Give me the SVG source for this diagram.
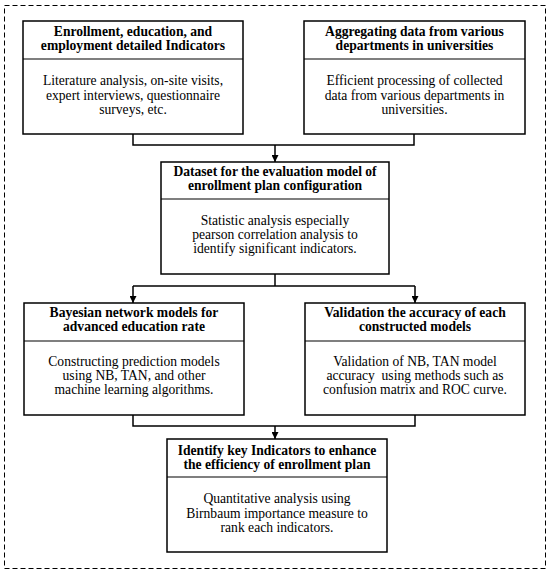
<svg xmlns="http://www.w3.org/2000/svg" width="550" height="574" viewBox="0 0 550 574">
<style>
.box{fill:#fff;stroke:#000;stroke-width:1.5}
.div{stroke:#000;stroke-width:1.2}
.t{font-family:"Liberation Serif","Times New Roman",serif;font-weight:bold;font-size:13.6px;text-anchor:middle;fill:#000}
.b{font-family:"Liberation Serif","Times New Roman",serif;font-size:13.6px;text-anchor:middle;fill:#000}
.c{fill:none;stroke:#000;stroke-width:1.5}
</style>
<defs>
<marker id="ah" viewBox="0 0 10 10" refX="10" refY="5" markerWidth="7" markerHeight="7" markerUnits="userSpaceOnUse" orient="auto">
<path d="M0,0 L10,5 L0,10 z" fill="#000"/>
</marker>
</defs>
<rect x="4.5" y="5.5" width="541" height="563" fill="none" stroke="#000" stroke-width="1" stroke-dasharray="5,3"/>
<g id="connectors">
<path class="c" d="M133,134 V145 H414 V134"/>
<path class="c" d="M275,145 V162" marker-end="url(#ah)"/>
<path class="c" d="M275,274 V286"/>
<path class="c" d="M133,286 H415"/>
<path class="c" d="M133,286 V303" marker-end="url(#ah)"/>
<path class="c" d="M415,286 V303" marker-end="url(#ah)"/>
<path class="c" d="M133,415 V426 H415 V415"/>
<path class="c" d="M275,426 V439" marker-end="url(#ah)"/>
</g>
<g id="node1">
<rect class="box" x="23" y="21" width="220" height="113"/>
<line class="div" x1="23" y1="59" x2="243" y2="59"/>
<text class="t" x="133" y="36">Enrollment, education, and</text>
<text class="t" x="133" y="50">employment detailed Indicators</text>
<text class="b" x="133" y="85">Literature analysis, on-site visits,</text>
<text class="b" x="133" y="99.5">expert interviews, questionnaire</text>
<text class="b" x="133" y="114">surveys, etc.</text>
</g>
<g id="node2">
<rect class="box" x="304" y="21" width="221" height="113"/>
<line class="div" x1="304" y1="59" x2="525" y2="59"/>
<text class="t" x="414.5" y="36">Aggregating data from various</text>
<text class="t" x="414.5" y="50">departments in universities</text>
<text class="b" x="414.5" y="85">Efficient processing of collected</text>
<text class="b" x="414.5" y="99.5">data from various departments in</text>
<text class="b" x="414.5" y="114">universities.</text>
</g>
<g id="node3">
<rect class="box" x="161" y="162" width="228" height="112"/>
<line class="div" x1="161" y1="199" x2="389" y2="199"/>
<text class="t" x="275" y="176">Dataset for the evaluation model of</text>
<text class="t" x="275" y="190">enrollment plan configuration</text>
<text class="b" x="275" y="225">Statistic analysis especially</text>
<text class="b" x="275" y="239">pearson correlation analysis to</text>
<text class="b" x="275" y="253">identify significant indicators.</text>
</g>
<g id="node4">
<rect class="box" x="24" y="303" width="220" height="112"/>
<line class="div" x1="24" y1="341" x2="244" y2="341"/>
<text class="t" x="134" y="317">Bayesian network models for</text>
<text class="t" x="134" y="331">advanced education rate</text>
<text class="b" x="134" y="366">Constructing prediction models</text>
<text class="b" x="134" y="380">using NB, TAN, and other</text>
<text class="b" x="134" y="394">machine learning algorithms.</text>
</g>
<g id="node5">
<rect class="box" x="305" y="303" width="220" height="112"/>
<line class="div" x1="305" y1="341" x2="525" y2="341"/>
<text class="t" x="415" y="317">Validation the accuracy of each</text>
<text class="t" x="415" y="331">constructed models</text>
<text class="b" x="415" y="366">Validation of NB, TAN model</text>
<text class="b" x="415" y="380" xml:space="preserve">accuracy  using methods such as</text>
<text class="b" x="415" y="394">confusion matrix and ROC curve.</text>
</g>
<g id="node6">
<rect class="box" x="167" y="439" width="220" height="113"/>
<line class="div" x1="167" y1="477" x2="387" y2="477"/>
<text class="t" x="277" y="455">Identify key Indicators to enhance</text>
<text class="t" x="277" y="468.5">the efficiency of enrollment plan</text>
<text class="b" x="277" y="503">Quantitative analysis using</text>
<text class="b" x="277" y="517.5">Birnbaum importance measure to</text>
<text class="b" x="277" y="532">rank each indicators.</text>
</g>
</svg>
